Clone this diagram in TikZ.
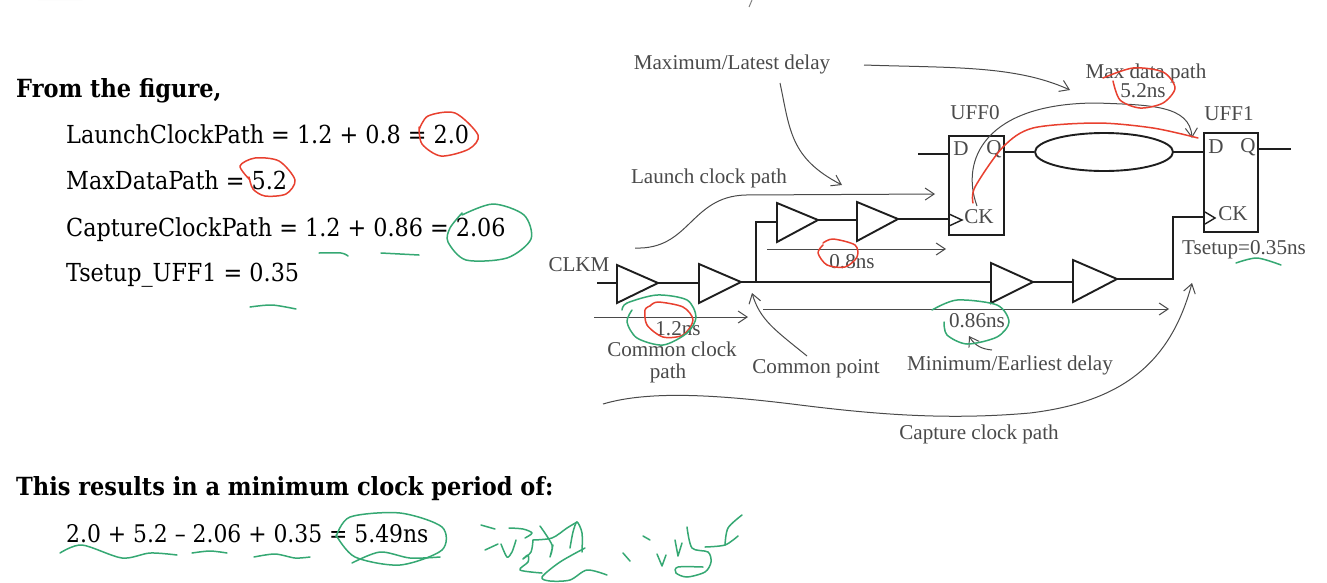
\documentclass[tikz,border=0pt]{standalone}
\usepackage{fontspec}
\setmainfont{Liberation Serif}
\newfontfamily\slab{DejaVu Serif Condensed}
\usetikzlibrary{arrows.meta,shapes.geometric}
\definecolor{inkred}{HTML}{E8402F}
\definecolor{inkgreen}{HTML}{35A873}
\definecolor{ngray}{HTML}{4A4A4A}
\definecolor{wire}{HTML}{1E1E1E}
\tikzset{
  lbl/.style={font=\fontsize{21.1}{24}\selectfont,text=ngray,inner sep=0pt},
  ltxt/.style={font=\slab\fontsize{24.8}{28}\selectfont,text=black,inner sep=0pt,anchor=base west},
  lhead/.style={font=\slab\bfseries\fontsize{25}{28}\selectfont,text=black,inner sep=0pt,anchor=base west},
  wireline/.style={draw=wire,line width=1.9pt},
  fflop/.style={draw=wire,line width=1.9pt},
  note/.style={draw=ngray,line width=1pt,-{Straight Barb[length=9pt,width=12pt,line width=1pt]}},
  hred/.style={draw=inkred,line width=1.5pt,line cap=round,line join=round},
  hgreen/.style={draw=inkgreen,line width=1.5pt,line cap=round,line join=round},
}
\newcommand{\buffer}[5]{% name, x-left, y-top, y-bottom, x-tip/y-tip
  \coordinate (#1t) at (#2,#3);
  \coordinate (#1b) at (#2,#4);
  \coordinate (#1o) at (#5);
  \draw[wireline,line join=miter] (#1t) -- (#1o) -- (#1b) -- cycle;
}
\begin{document}
\begin{tikzpicture}[x=1pt,y=-1pt]
\useasboundingbox (0,0) rectangle (1327,582);
\fill[white] (0,0) rectangle (1327,582);

% --- left text
\node[lhead] (t0) at (16,97) {From the figure,};
\node[ltxt] (t1) at (66,143) {LaunchClockPath = 1.2 + 0.8 = 2.0};
\node[ltxt] (t2) at (66,189) {MaxDataPath = 5.2};
\node[ltxt] (t3) at (66,236) {CaptureClockPath = 1.2 + 0.86 = 2.06};
\node[ltxt] (t4) at (66,281) {Tsetup\_UFF1 = 0.35};
\node[lhead] (t5) at (16,495) {This results in a minimum clock period of:};
\node[ltxt,font=\slab\fontsize{24.3}{28}\selectfont] (t6) at (66,542) {2.0 + 5.2 – 2.06 + 0.35 = 5.49ns};

% --- buffers
\buffer{ba}{617}{265}{303}{658,283}
\buffer{bb}{699}{264}{303}{741,282}
\buffer{bc}{777}{203}{242}{818,220}
\buffer{bd}{857}{202}{241}{898,219}
\buffer{be}{991}{263}{303}{1033,282}
\buffer{bf}{1073}{260}{302}{1117,279}

% --- flip flops
\node[fflop,minimum width=55pt,minimum height=99pt,inner sep=0pt] (ff0) at (976.5,185.5) {};
\node[fflop,minimum width=54pt,minimum height=99pt,inner sep=0pt] (ff1) at (1231,182.5) {};
\node[draw=wire,line width=1.9pt,ellipse,minimum width=138pt,minimum height=38pt,inner sep=0pt] (dp) at (1104,152) {};

\coordinate (clkin) at (597,283);
\coordinate (ain) at (617,283);
\coordinate (bain) at (699,283);
\coordinate (tap) at (756,282);
\coordinate (tapup) at (756,222);
\coordinate (cin) at (777,222);
\coordinate (dst) at (857,220);
\coordinate (ck0) at (949,219);
\coordinate (ein) at (991,282);
\coordinate (fin) at (1073,282);
\coordinate (fcorner) at (1173,279);
\coordinate (ck1up) at (1173,217);
\coordinate (ck1) at (1204,217);
\coordinate (d0in) at (918,154);
\coordinate (d0) at (949,154);
\coordinate (q0) at (1004,152);
\coordinate (d1) at (1204,152);
\coordinate (q1) at (1258,149);
\coordinate (q1out) at (1291,149);

\draw[wireline] (clkin) -- (ain);
\draw[wireline] (bao) -- (bain);
\draw[wireline] (bbo) -- (ein);
\draw[wireline] (tap) -- (tapup) -- (cin);
\draw[wireline] (bco) -- (dst);
\draw[wireline] (bdo) -- (ck0);
\draw[wireline] (beo) -- (fin);
\draw[wireline] (bfo) -- (fcorner) -- (ck1up) -- (ck1);
\draw[wireline] (d0in) -- (d0);
\draw[wireline] (q0) -- (dp.west);
\draw[wireline] (dp.east) -- (d1);
\draw[wireline] (q1) -- (q1out);
\coordinate (cka) at (949,214); \coordinate (ckb) at (962,220); \coordinate (ckc) at (949,226);
\draw[wire,line width=1.4pt] (cka) -- (ckb) -- (ckc);
\coordinate (cld) at (1205,212); \coordinate (cle) at (1215,218); \coordinate (clf) at (1205,224);
\draw[wire,line width=1.4pt] (cld) -- (cle) -- (clf);

% --- labels
\node[lbl] (lmax) at (732,64) {Maximum/Latest delay};
\node[lbl] (lmdp) at (1146,73) {Max data path};
\node[lbl] (l52) at (1143,91) {5.2ns};
\node[lbl] (luf0) at (975,113) {UFF0};
\node[lbl] (luf1) at (1229,114) {UFF1};
\node[lbl] (lD0) at (961,149) {D};
\node[lbl] (lQ0) at (994,149) {Q};
\node[lbl] (lD1) at (1216,147) {D};
\node[lbl] (lQ1) at (1248,147) {Q};
\node[lbl] (lC0) at (979,217) {CK};
\node[lbl] (lC1) at (1233,214) {CK};
\node[lbl] (lsetup) at (1244,250) {Tsetup=0.35ns};
\node[lbl] (llaunch) at (709,178) {Launch clock path};
\node[lbl] (lclkm) at (579,265) {CLKM};
\node[lbl] (l08) at (852,262) {0.8ns};
\node[lbl] (l12) at (678,329) {1.2ns};
\node[lbl] (lcom) at (672,349) {Common clock};
\node[lbl] (lpath) at (668,373) {path};
\node[lbl] (lcp) at (816,369) {Common point};
\node[lbl] (l086) at (977,321) {0.86ns};
\node[lbl] (lmin) at (1010,365) {Minimum/Earliest delay};
\node[lbl] (lcap) at (979,434) {Capture clock path};

% --- note arrows
\coordinate (n1a) at (780,83); \coordinate (n1b) at (842,185);
\draw[note] (n1a) .. controls (790,130) and (790,158) .. (n1b);
\coordinate (n2a) at (864,65); \coordinate (n2b) at (1070,90);
\draw[note] (n2a) .. controls (950,68) and (1015,65) .. (n2b);
\coordinate (n3a) at (635,248); \coordinate (n3b) at (935,194);
\draw[note] (n3a) .. controls (690,250) and (690,197) .. (745,195) -- (n3b);
\coordinate (n4a) at (977,206); \coordinate (n4b) at (1192,138);
\draw[note] (n4a) .. controls (960,160) and (985,103) .. (1097,103) .. controls (1150,105) and (1190,105) .. (n4b);
\coordinate (a08a) at (767,249); \coordinate (a08b) at (946,249);
\draw[note] (a08a) -- (a08b);
\coordinate (a12a) at (594,317); \coordinate (a12b) at (748,317);
\draw[note] (a12a) -- (a12b);
\coordinate (a86a) at (763,309); \coordinate (a86b) at (1169,309);
\draw[note] (a86a) -- (a86b);
\coordinate (n5a) at (807,356); \coordinate (n5b) at (752,293);
\draw[note] (n5a) .. controls (775,330) and (760,320) .. (n5b);
\coordinate (n6a) at (992,350); \coordinate (n6b) at (969,336);
\draw[note] (n6a) .. controls (982,349) and (975,346) .. (n6b);
\coordinate (n7a) at (603,404); \coordinate (n7b) at (1192,283);
\draw[note] (n7a) .. controls (650,390) and (720,395) .. (800,405) .. controls (880,415) and (950,420) .. (1030,413) .. controls (1120,402) and (1170,365) .. (n7b);

% --- red handwriting
\draw[hred] plot[smooth] coordinates {(973,203) (975,187) (1003,147) (1033,128) (1097,123) (1153,128) (1198,138)};
\draw[hred] plot[smooth] coordinates {(1103,78) (1133,68) (1163,72) (1175,88) (1163,103) (1140,108) (1120,100) (1113,81)};
\draw[hred] plot[smooth] coordinates {(823,243) (833,239) (855,245) (857,257) (845,267) (827,265) (818,253) (823,245)};
\draw[hred] plot[smooth] coordinates {(650,306) (658,302) (683,307) (693,320) (683,335) (663,337) (647,325) (645,310) (650,306)};
\draw[hred] plot[smooth] coordinates {(419,130) (428,116) (455,113) (478,135) (469,149) (441,156) (422,144) (419,127)};
\draw[hred] plot[smooth] coordinates {(250,180) (240,166) (255,158) (279,161) (295,180) (286,194) (265,196) (253,189) (249,177)};

% --- green handwriting
\draw[hgreen] plot[smooth] coordinates {(1236,263) (1257,258) (1281,265)};
\draw[hgreen] plot[smooth] coordinates {(932,310) (957,300) (997,305) (1009,322) (997,337) (967,344) (947,335) (944,322)};
\draw[hgreen] plot[smooth] coordinates {(622,310) (627,303) (657,295) (687,300) (696,317) (687,333) (663,345) (637,338) (627,322) (632,310)};
\draw[hgreen] plot[smooth] coordinates {(462,215) (493,204) (524,215) (531,239) (507,258) (466,260) (448,242) (450,228) (462,213)};
\draw[hgreen] plot[smooth] coordinates {(319,253) (341,253) (348,256)};
\draw[hgreen] plot[smooth] coordinates {(381,253) (419,255)};
\draw[hgreen] plot[smooth] coordinates {(250,307) (272,305) (296,309)};
\draw[hgreen] plot[smooth] coordinates {(60,553) (82,545) (122,558) (150,553) (177,555)};
\draw[hgreen] plot[smooth] coordinates {(192,553) (210,551) (227,553)};
\draw[hgreen] plot[smooth] coordinates {(254,557) (275,554) (295,558) (310,557)};
\draw[hgreen] plot[smooth] coordinates {(352,563) (380,552) (410,558) (440,557)};
\draw[hgreen] plot[smooth] coordinates {(336,537) (350,517) (400,513) (442,527) (442,550) (400,565) (355,557) (336,535)};
% Chinese scribble
\draw[hgreen] (481,525) -- (495,529);
\draw[hgreen] (485,550) -- (498,544);
\draw[hgreen] plot[smooth] coordinates {(501,544) (507,557) (512,552) (516,540)};
\draw[hgreen] plot[smooth] coordinates {(509,528) (523,529) (532,533) (525,538)};
\draw[hgreen] plot[smooth] coordinates {(533,540) (531,552) (523,559) (528,555) (528,562) (520,570) (542,573)};
\draw[hgreen] plot[smooth] coordinates {(533,540) (552,538) (567,528) (577,522)};
\draw[hgreen] plot[smooth] coordinates {(540,526) (552,545) (550,557) (553,545)};
\draw[hgreen] plot[smooth] coordinates {(570,548) (573,532) (577,522) (582,533) (582,552)};
\draw[hgreen] plot[smooth] coordinates {(585,548) (560,562) (542,577) (550,581) (570,580) (587,570) (607,575)};
\draw[hgreen] (643,536) -- (650,540);
\draw[hgreen] (623,553) -- (630,561);
\draw[hgreen] (657,554) -- (662,566) -- (666,555);
\draw[hgreen] (675,540) -- (678,556) -- (682,543);
\draw[hgreen] plot[smooth] coordinates {(687,527) (692,548) (708,552) (711,562) (705,572) (687,577) (676,573) (678,567) (703,567)};
\draw[hgreen] plot[smooth] coordinates {(705,547) (725,545) (738,536)};
\draw[hgreen] plot[smooth] coordinates {(742,515) (728,528) (725,545)};
% faint specks
\fill[gray!8] (38,0) arc (180:360:22 and 15) -- cycle;
\draw[gray,line width=1pt] (752,0) -- (749,7);
\end{tikzpicture}
\end{document}
